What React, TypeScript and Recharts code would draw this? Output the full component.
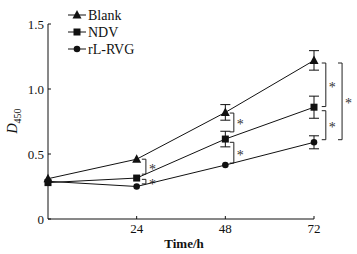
import React from "react";
import {
  LineChart,
  Line,
  XAxis,
  YAxis,
  ErrorBar,
  ReferenceLine,
} from "recharts";

const hours = [0, 24, 48, 72];
const blank = [0.31, 0.46, 0.82, 1.22];
const blankErr = [0, 0, 0.06, 0.075];
const ndv = [0.28, 0.315, 0.615, 0.86];
const ndvErr = [0, 0, 0.06, 0.085];
const rlrvg = [0.29, 0.25, 0.415, 0.59];
const rlrvgErr = [0, 0, 0, 0.05];

const yTicks = [0, 0.5, 1.0, 1.5];
const xTicks = [24, 48, 72];

// significance brackets: [x, top value, bottom value]
const brackets: [number, number, number][] = [
  [26.5, 0.46, 0.345],
  [26.5, 0.305, 0.27],
  [50.3, 0.815, 0.67],
  [50.3, 0.59, 0.43],
  [75.2, 1.2, 0.865],
  [75.2, 0.833, 0.61],
  [79.6, 1.2, 0.61],
];

const data = hours.map((h, i) => ({
  h,
  blank: blank[i],
  blankErr: blankErr[i],
  ndv: ndv[i],
  ndvErr: ndvErr[i],
  rlrvg: rlrvg[i],
  rlrvgErr: rlrvgErr[i],
}));

const FONT = "'Liberation Serif', 'Times New Roman', serif";

const Triangle = (props: any) => {
  const { cx, cy } = props;
  if (cx == null || cy == null) return null;
  return (
    <path
      d={`M${cx},${cy - 5} L${cx + 4.5},${cy + 3.5} L${cx - 4.5},${cy + 3.5} Z`}
      fill="#111"
    />
  );
};

const Square = (props: any) => {
  const { cx, cy } = props;
  if (cx == null || cy == null) return null;
  return <rect x={cx - 3.5} y={cy - 3.5} width={7} height={7} fill="#111" />;
};

const Dot = (props: any) => {
  const { cx, cy } = props;
  if (cx == null || cy == null) return null;
  return <circle cx={cx} cy={cy} r={3.3} fill="#111" />;
};

const legendItems = [
  { name: "Blank", Shape: Triangle },
  { name: "NDV", Shape: Square },
  { name: "rL-RVG", Shape: Dot },
];

const Legend = () => (
  <g>
    {legendItems.map((it, i) => {
      const y = 15 + i * 17;
      return (
        <g key={it.name}>
          <line x1={68} x2={86} y1={y} y2={y} stroke="#111" strokeWidth={1} />
          <it.Shape cx={77} cy={y} />
          <text x={88} y={y + 4.5} fontSize={14} fontFamily={FONT} fill="#111">
            {it.name}
          </text>
        </g>
      );
    })}
  </g>
);

const Star = (props: any) => {
  const vb = props.viewBox || {};
  const x = (vb.x ?? 0) + (vb.width ?? 0) + 3;
  const y = (vb.y ?? 0) + (vb.height ?? 0) / 2 + 7;
  return (
    <text x={x} y={y} fontSize={14} fontFamily={FONT} fill="#333">
      *
    </text>
  );
};

export default function App() {
  return (
    <div style={{ position: "absolute", left: 0, top: 0, background: "#fff" }}>
      <LineChart
        width={357}
        height={254}
        data={data}
        margin={{ top: 24, right: 43, left: 8, bottom: 15 }}
      >
        <XAxis
          dataKey="h"
          type="number"
          domain={[0, 72]}
          ticks={xTicks}
          tickSize={-3}
          tickMargin={8}
          height={20}
          stroke="#111"
          tick={{ fill: "#111", fontSize: 13, fontFamily: FONT }}
          label={(p: any) => {
            const vb = p.viewBox;
            return (
              <text
                x={184}
                y={vb.y + vb.height + 9}
                textAnchor="middle"
                fontSize={13}
                fontWeight="bold"
                fontFamily={FONT}
                fill="#111"
              >
                Time/h
              </text>
            );
          }}
        />
        <YAxis
          type="number"
          domain={[0, 1.5]}
          ticks={yTicks}
          width={40}
          tickSize={-3}
          tickMargin={7}
          stroke="#111"
          tickFormatter={(v: number) => (v === 0 ? "0" : v.toFixed(1))}
          tick={{ fill: "#111", fontSize: 13, fontFamily: FONT }}
          label={() => (
            <text
              transform="translate(17,121) rotate(-90)"
              textAnchor="middle"
              fontFamily={FONT}
              fill="#111"
              fontSize={14}
            >
              <tspan fontStyle="italic">D</tspan>
              <tspan fontSize={10} dy={4}>
                450
              </tspan>
            </text>
          )}
        />
        {brackets.map(([x, top, bottom], i) => (
          <React.Fragment key={i}>
            <ReferenceLine
              segment={[
                { x: x - 1.1, y: top },
                { x, y: top },
              ]}
              stroke="#222"
              strokeWidth={1}
              ifOverflow="visible"
            />
            <ReferenceLine
              segment={[
                { x, y: top },
                { x, y: bottom },
              ]}
              stroke="#222"
              strokeWidth={1}
              ifOverflow="visible"
              label={<Star />}
            />
            <ReferenceLine
              segment={[
                { x: x - 1.1, y: bottom },
                { x, y: bottom },
              ]}
              stroke="#222"
              strokeWidth={1}
              ifOverflow="visible"
            />
          </React.Fragment>
        ))}
        <Line
          dataKey="blank"
          stroke="#111"
          strokeWidth={1}
          dot={<Triangle />}
          isAnimationActive={false}
        >
          <ErrorBar dataKey="blankErr" width={5} stroke="#111" strokeWidth={1} />
        </Line>
        <Line
          dataKey="ndv"
          stroke="#111"
          strokeWidth={1}
          dot={<Square />}
          isAnimationActive={false}
        >
          <ErrorBar dataKey="ndvErr" width={5} stroke="#111" strokeWidth={1} />
        </Line>
        <Line
          dataKey="rlrvg"
          stroke="#111"
          strokeWidth={1}
          dot={<Dot />}
          isAnimationActive={false}
        >
          <ErrorBar dataKey="rlrvgErr" width={5} stroke="#111" strokeWidth={1} />
        </Line>
        <Legend />
      </LineChart>
    </div>
  );
}
